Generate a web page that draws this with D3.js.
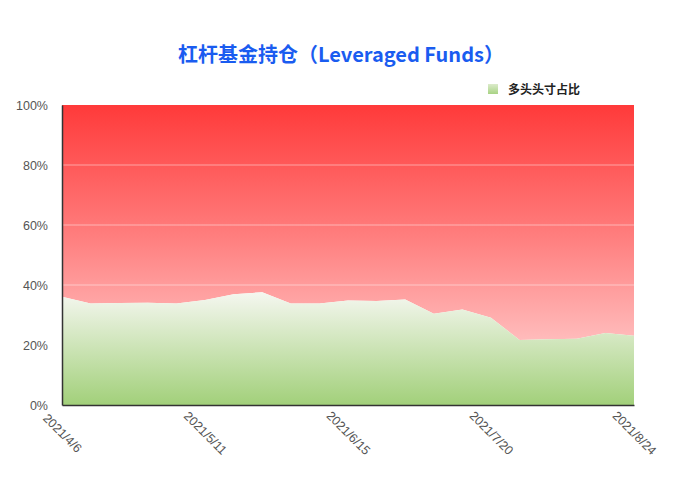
<!DOCTYPE html>
<html><head><meta charset="utf-8">
<script src="https://cdn.jsdelivr.net/npm/d3@7"></script>
<style>body{margin:0;background:#fff}svg{display:block}</style>
</head><body>
<script>
const dates = ["2021/4/6","2021/4/13","2021/4/20","2021/4/27","2021/5/4","2021/5/11","2021/5/18","2021/5/25","2021/6/1","2021/6/8","2021/6/15","2021/6/22","2021/6/29","2021/7/6","2021/7/13","2021/7/20","2021/7/27","2021/8/3","2021/8/10","2021/8/17","2021/8/24"];
const longShare = [36.1,33.8,34.0,34.1,33.8,35.0,36.9,37.6,33.8,33.8,34.8,34.7,35.2,30.4,31.8,29.1,21.7,21.9,22.1,24.0,23.1];
const tickLabels = ["2021/4/6","2021/5/11","2021/6/15","2021/7/20","2021/8/24"];
const yTicks = [0,20,40,60,80,100];
const title = "杠杆基金持仓（Leveraged Funds）";
const legendLabel = "多头头寸占比";

const W=693,H=479, m={l:62,r:59,t:105,b:74};
const svg=d3.select("body").append("svg").attr("width",W).attr("height",H);
const x=d3.scalePoint().domain(dates).range([m.l,W-m.r]);
const y=d3.scaleLinear().domain([0,100]).range([H-m.b,m.t]);
const defs=svg.append("defs");
const rg=defs.append("linearGradient").attr("id","rg").attr("gradientUnits","userSpaceOnUse")
  .attr("x1",0).attr("x2",0).attr("y1",y(100)).attr("y2",y(0));
rg.append("stop").attr("offset","0%").attr("stop-color","#ff3a3a");
rg.append("stop").attr("offset","45%").attr("stop-color","#ff8080");
rg.append("stop").attr("offset","100%").attr("stop-color","#ffe2e2");
const gg=defs.append("linearGradient").attr("id","gg").attr("x1",0).attr("x2",0).attr("y1",0).attr("y2",1);
gg.append("stop").attr("offset","0%").attr("stop-color","#f5f7f0");
gg.append("stop").attr("offset","100%").attr("stop-color","#a2d07a");
const lg=defs.append("linearGradient").attr("id","lg").attr("x1",0).attr("x2",0).attr("y1",0).attr("y2",1);
lg.append("stop").attr("offset","0%").attr("stop-color","#dcebcb");
lg.append("stop").attr("offset","100%").attr("stop-color","#a8d384");

// short area (remaining share) as stacked area on top
svg.append("path").datum(longShare)
  .attr("d",d3.area().x((d,i)=>x(dates[i])).y0(d=>y(d)).y1(()=>y(100)))
  .attr("fill","url(#rg)");
// gridlines
svg.append("g").selectAll("line").data(yTicks.filter(t=>t>0&&t<100)).join("line")
  .attr("x1",m.l).attr("x2",W-m.r).attr("y1",d=>y(d)).attr("y2",d=>y(d))
  .attr("stroke","rgba(255,255,255,0.45)").attr("stroke-width",1);
svg.append("path").datum(longShare)
  .attr("d",d3.area().x((d,i)=>x(dates[i])).y0(y(0)).y1(d=>y(d)))
  .attr("fill","url(#gg)");

// axes
const ya=svg.append("g").attr("transform",`translate(${m.l},0)`)
  .call(d3.axisLeft(y).tickValues(yTicks).tickFormat(d=>d+"%").tickSize(0).tickPadding(14));
ya.select(".domain").attr("stroke","#333").attr("stroke-width",1.5);
ya.selectAll("text").attr("fill","#555").style("font-family","Liberation Sans, Arial, sans-serif").style("font-size","12.5px");
const xa=svg.append("g").attr("transform",`translate(0,${y(0)})`)
  .call(d3.axisBottom(x).tickValues(tickLabels).tickSize(0));
xa.select(".domain").attr("stroke","#333").attr("stroke-width",1.5);
xa.selectAll("text").attr("fill","#555").style("font-family","Liberation Sans, Arial, sans-serif").style("font-size","12.5px")
  .attr("text-anchor","middle").attr("y",0).attr("dy","0.35em")
  .attr("transform","translate(0,28) rotate(45)");

// title
svg.append("text").attr("x",341).attr("y",62).attr("text-anchor","middle")
  .attr("fill","#1a5cf0").style("font-family","Noto Sans CJK SC").style("font-weight","bold").style("font-size","20px")
  .text(title);
// legend
svg.append("rect").attr("x",488).attr("y",84).attr("width",10).attr("height",10).attr("fill","url(#lg)");
svg.append("text").attr("x",508).attr("y",93.5).attr("fill","#222")
  .style("font-family","Noto Sans CJK SC").style("font-weight","bold").style("font-size","12px").text(legendLabel);
</script>
</body></html>
